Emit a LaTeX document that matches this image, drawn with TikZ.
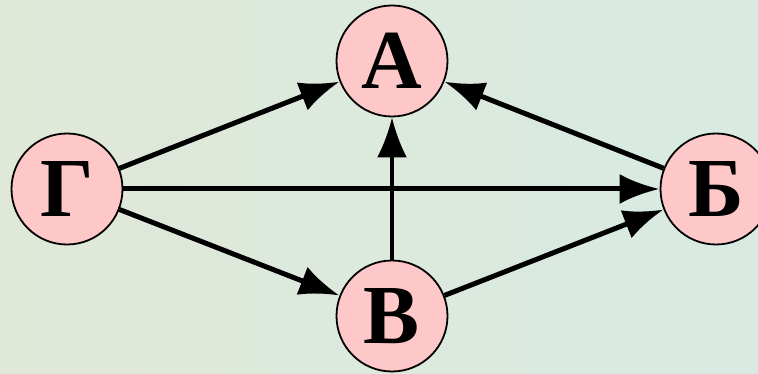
\documentclass[tikz,border=0pt]{standalone}
\usepackage{fontspec}
\setmainfont{Liberation Serif}
\usetikzlibrary{arrows.meta}

\begin{document}
\begin{tikzpicture}[x=1pt,y=-1pt,
  vertex/.style={circle,draw=black,line width=1.8pt,fill=nodepink,
    minimum size=111pt,inner sep=0pt,font=\fontsize{84}{84}\selectfont\bfseries},
  edge/.style={line width=5pt,-{Latex[length=40pt,width=30pt]}},
  thinedge/.style={line width=3.5pt,-{Latex[length=40pt,width=30pt]}}]
\definecolor{nodepink}{RGB}{255,200,200}
\definecolor{bgleft}{RGB}{224,232,216}
\definecolor{bgright}{RGB}{216,234,226}
% background
\useasboundingbox (0,0) rectangle (758,374);
\clip (0,0) rectangle (758,374);
\shade[left color=bgleft,right color=bgright] (0,0) rectangle (758,374);
% vertices
\node[vertex] (A) at (392,61) {А};
\node[vertex] (G) at (67,189) {Г};
\node[vertex] (B) at (716,189) {Б};
\node[vertex] (V) at (392,316) {В};
% arcs
\draw[edge] (G) -- (A);
\draw[edge] (B) -- (A);
\draw[edge] (G) -- (B);
\draw[edge] (G) -- (V);
\draw[edge] (V) -- (B);
\draw[thinedge] (V) -- (A);
\end{tikzpicture}
\end{document}
